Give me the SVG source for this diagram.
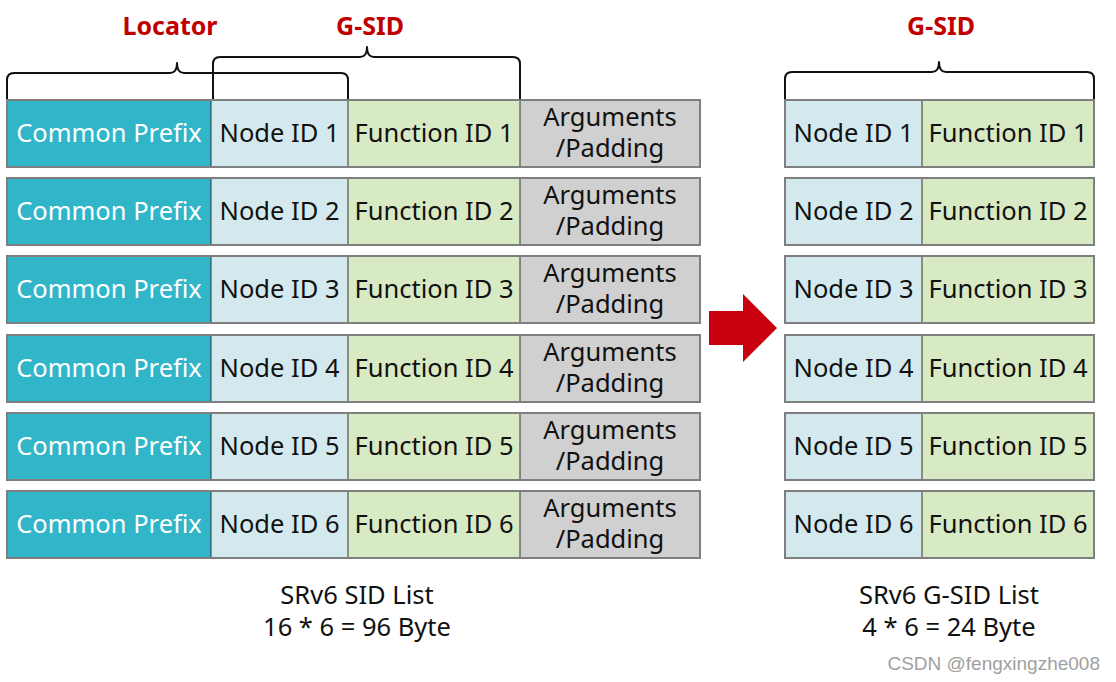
<svg xmlns="http://www.w3.org/2000/svg" width="1116" height="682" viewBox="0 0 1116 682">
<style>
.cp{fill:#31B5C8}
.nd{fill:#D3E9EE}
.fn{fill:#D8EAC4}
.ag{fill:#D0D0D0}
.div{stroke:#333;stroke-width:1}
.out{fill:none;stroke:#7F7F7F;stroke-width:2}
.t{font-family:"Noto Sans","Open Sans",sans-serif;font-size:25.5px;fill:#111;text-anchor:middle}
.tw{fill:#fff}
.lab{font-family:"Noto Sans","Open Sans",sans-serif;font-size:25px;font-weight:bold;fill:#C00000;text-anchor:middle}
.br{fill:none;stroke:#111;stroke-width:2;stroke-linejoin:round}
.cap{font-family:"Noto Sans","Open Sans",sans-serif;font-size:25.5px;fill:#111;text-anchor:middle}
</style>
<defs>
<g id="leftRow">
<rect class="cp" x="7" y="0" width="204" height="67"/>
<rect class="nd" x="211" y="0" width="137" height="67"/>
<rect class="fn" x="348" y="0" width="172" height="67"/>
<rect class="ag" x="520" y="0" width="180" height="67"/>
<line class="div" x1="211" y1="0" x2="211" y2="67"/>
<line class="div" x1="348" y1="0" x2="348" y2="67"/>
<line class="div" x1="520" y1="0" x2="520" y2="67"/>
<rect class="out" x="7" y="0" width="693" height="67"/>
</g>
<g id="rightRow">
<rect class="nd" x="785" y="0" width="137" height="67"/>
<rect class="fn" x="922" y="0" width="172" height="67"/>
<line class="div" x1="922" y1="0" x2="922" y2="67"/>
<rect class="out" x="785" y="0" width="309" height="67"/>
</g>
</defs>

<g id="labels">
<text class="lab" x="170" y="35">Locator</text>
<text class="lab" x="370" y="35">G-SID</text>
<text class="lab" x="941" y="35">G-SID</text>
</g>

<g id="brackets">
<path class="br" d="M7,100 V80 Q7,73 14,73 H170 Q177,73 177,63 Q177,73 184,73 H341 Q348,73 348,80 V100"/>
<path class="br" d="M213,100 V64 Q213,57 220,57 H360 Q367,57 367,47 Q367,57 374,57 H513 Q520,57 520,64 V100"/>
<path class="br" d="M785,100 V79 Q785,72 792,72 H932 Q939,72 939,62 Q939,72 946,72 H1087 Q1094,72 1094,79 V100"/>
</g>

<g id="row1"><use href="#leftRow" y="100"/>
<text class="t tw" x="109" y="142">Common Prefix</text><text class="t" x="279.5" y="142">Node ID 1</text><text class="t" x="434" y="142">Function ID 1</text><text class="t" x="610" y="126">Arguments</text><text class="t" x="610" y="157">/Padding</text></g>
<g id="row2"><use href="#leftRow" y="178"/>
<text class="t tw" x="109" y="220">Common Prefix</text><text class="t" x="279.5" y="220">Node ID 2</text><text class="t" x="434" y="220">Function ID 2</text><text class="t" x="610" y="204">Arguments</text><text class="t" x="610" y="235">/Padding</text></g>
<g id="row3"><use href="#leftRow" y="256"/>
<text class="t tw" x="109" y="298">Common Prefix</text><text class="t" x="279.5" y="298">Node ID 3</text><text class="t" x="434" y="298">Function ID 3</text><text class="t" x="610" y="282">Arguments</text><text class="t" x="610" y="313">/Padding</text></g>
<g id="row4"><use href="#leftRow" y="335"/>
<text class="t tw" x="109" y="377">Common Prefix</text><text class="t" x="279.5" y="377">Node ID 4</text><text class="t" x="434" y="377">Function ID 4</text><text class="t" x="610" y="361">Arguments</text><text class="t" x="610" y="392">/Padding</text></g>
<g id="row5"><use href="#leftRow" y="413"/>
<text class="t tw" x="109" y="455">Common Prefix</text><text class="t" x="279.5" y="455">Node ID 5</text><text class="t" x="434" y="455">Function ID 5</text><text class="t" x="610" y="439">Arguments</text><text class="t" x="610" y="470">/Padding</text></g>
<g id="row6"><use href="#leftRow" y="491"/>
<text class="t tw" x="109" y="533">Common Prefix</text><text class="t" x="279.5" y="533">Node ID 6</text><text class="t" x="434" y="533">Function ID 6</text><text class="t" x="610" y="517">Arguments</text><text class="t" x="610" y="548">/Padding</text></g>

<g id="grow1"><use href="#rightRow" y="100"/><text class="t" x="853.5" y="142">Node ID 1</text><text class="t" x="1008" y="142">Function ID 1</text></g>
<g id="grow2"><use href="#rightRow" y="178"/><text class="t" x="853.5" y="220">Node ID 2</text><text class="t" x="1008" y="220">Function ID 2</text></g>
<g id="grow3"><use href="#rightRow" y="256"/><text class="t" x="853.5" y="298">Node ID 3</text><text class="t" x="1008" y="298">Function ID 3</text></g>
<g id="grow4"><use href="#rightRow" y="335"/><text class="t" x="853.5" y="377">Node ID 4</text><text class="t" x="1008" y="377">Function ID 4</text></g>
<g id="grow5"><use href="#rightRow" y="413"/><text class="t" x="853.5" y="455">Node ID 5</text><text class="t" x="1008" y="455">Function ID 5</text></g>
<g id="grow6"><use href="#rightRow" y="491"/><text class="t" x="853.5" y="533">Node ID 6</text><text class="t" x="1008" y="533">Function ID 6</text></g>

<g id="connectors">
<polygon points="709,311 743,311 743,294 777,328 743,362 743,345 709,345" fill="#C8000F"/>
</g>

<g id="captions">
<text class="cap" x="357" y="604">SRv6 SID List</text>
<text class="cap" x="357" y="636">16 * 6 = 96 Byte</text>
<text class="cap" x="949" y="604">SRv6 G-SID List</text>
<text class="cap" x="949" y="636">4 * 6 = 24 Byte</text>
<text x="1100" y="670" font-family="'Liberation Sans',Arial,sans-serif" font-size="19" fill="#A0A0A0" text-anchor="end">CSDN @fengxingzhe008</text>
</g>
</svg>
